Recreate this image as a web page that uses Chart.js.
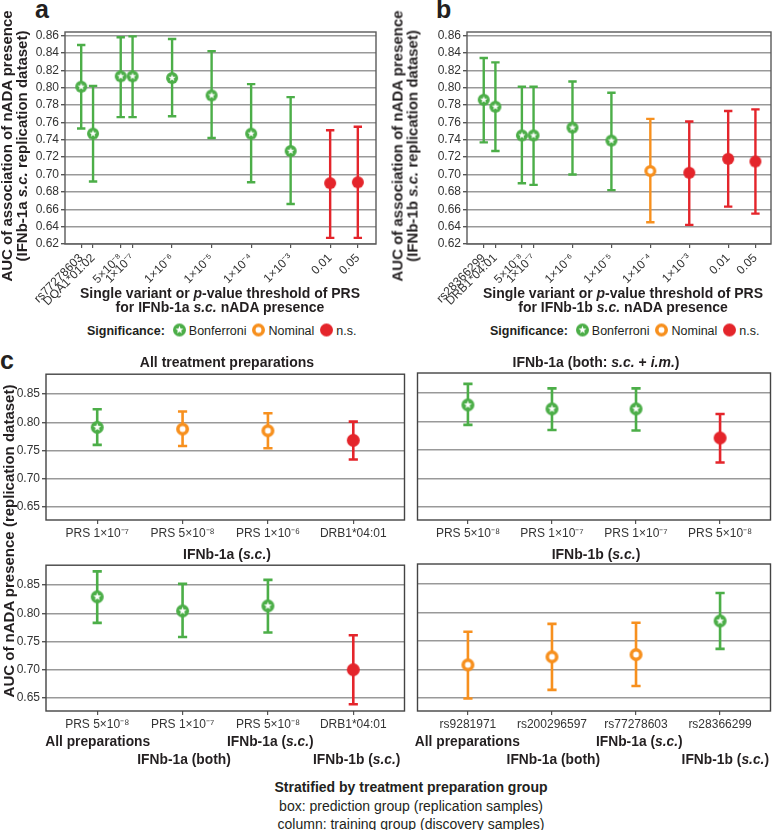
<!DOCTYPE html>
<html>
<head>
<meta charset="utf-8">
<script src="https://cdn.jsdelivr.net/npm/chart.js@4.4.1/dist/chart.umd.min.js"></script>
<style>
    body { margin: 0; width: 778px; height: 830px; position: relative; overflow: hidden; background: #fff;
           font-family: "Liberation Sans", Arial, sans-serif; color: #231f20; }
    canvas.plot { position: absolute; }
    .t { position: absolute; white-space: nowrap; line-height: 1; }
    .c { transform: translate(-50%, -50%); text-align: center; }
    .b { font-weight: bold; }
    .vt { position: absolute; white-space: nowrap; text-align: center; font-weight: bold;
          transform: translate(-50%, -50%) rotate(-90deg); line-height: 14.5px; font-size: 15px; }
    .letter { position: absolute; font-weight: bold; font-size: 25px; line-height: 1; }
    .legend { position: absolute; display: flex; align-items: center; font-size: 12.5px; white-space: nowrap;
              transform: translateY(-50%); }
    .legend canvas { margin: 0 2px 0 5px; }
</style>
</head>
<body>

<div class="letter" style="left:35px; top:-3px;">a</div>
<div class="letter" style="left:436px; top:-3px;">b</div>
<div class="letter" style="left:0px; top:348px;">c</div>

<canvas class="plot" id="chartA" width="390" height="320" style="left:0; top:0;"></canvas>
<canvas class="plot" id="chartB" width="388" height="320" style="left:390px; top:0;"></canvas>
<canvas class="plot" id="chartC1" width="412" height="180" style="left:0; top:365px;"></canvas>
<canvas class="plot" id="chartC2" width="368" height="180" style="left:410px; top:365px;"></canvas>
<canvas class="plot" id="chartC3" width="412" height="180" style="left:0; top:556px;"></canvas>
<canvas class="plot" id="chartC4" width="368" height="180" style="left:410px; top:556px;"></canvas>

<!-- axis titles, panel a / b -->
<div class="vt" style="left:14px; top:146px;">AUC of association of nADA presence<br>(IFNb-1a <i>s.c.</i> replication dataset)</div>
<div class="vt" style="left:405px; top:146px;">AUC of association of nADA presence<br>(IFNb-1b <i>s.c.</i> replication dataset)</div>
<div class="t c b" style="left:220px; top:300px; font-size:14px; line-height:13.5px;">Single variant or <i>p</i>-value threshold of PRS<br>for IFNb-1a <i>s.c.</i> nADA presence</div>
<div class="t c b" style="left:623px; top:300px; font-size:14px; line-height:13.5px;">Single variant or <i>p</i>-value threshold of PRS<br>for IFNb-1b <i>s.c.</i> nADA presence</div>
<div class="legend" id="legendA" style="left:87px; top:330px;"></div>
<div class="legend" id="legendB" style="left:490px; top:330px;"></div>

<!-- panel c titles -->
<div class="t c b" style="left:227px; top:362px; font-size:14px;">All treatment preparations</div>
<div class="t c b" style="left:596px; top:362px; font-size:14px;">IFNb-1a (both: <i>s.c.</i> + <i>i.m.</i>)</div>
<div class="t c b" style="left:227px; top:554px; font-size:14px;">IFNb-1a (<i>s.c.</i>)</div>
<div class="t c b" style="left:596px; top:554px; font-size:14px;">IFNb-1b (<i>s.c.</i>)</div>
<div class="vt" style="left:9px; top:541px;">AUC of nADA presence (replication dataset)</div>

<div id="columnLabels"></div>

<div class="t c b" style="left:411px; top:787px; font-size:14px;">Stratified by treatment preparation group</div>
<div class="t c" style="left:411px; top:806px; font-size:14px;">box: prediction group (replication samples)</div>
<div class="t c" style="left:411px; top:824px; font-size:14px;">column: training group (discovery samples)</div>

<script>
    // ---- data ----
    // significance: B = Bonferroni, Nom = nominal, NS = not significant

    // panel a: IFNb-1a s.c.
    const labelsA = ['rs77278603', 'DQA1*01:02', '5×10⁻⁸', '1×10⁻⁷', '1×10⁻⁶', '1×10⁻⁵', '1×10⁻⁴', '1×10⁻³', '0.01', '0.05'];
    const posA = [-8.3, -8.0, -7.3, -7, -6, -5, -4, -3, -2, -1.3]; // log10 of threshold
    const aucA = [0.801, 0.747, 0.813, 0.813, 0.811, 0.791, 0.747, 0.727, 0.690, 0.691];
    const lowA = [0.753, 0.692, 0.766, 0.766, 0.767, 0.742, 0.691, 0.666, 0.627, 0.627];
    const highA = [0.849, 0.802, 0.858, 0.859, 0.856, 0.842, 0.804, 0.789, 0.751, 0.755];
    const sigA = ['B', 'B', 'B', 'B', 'B', 'B', 'B', 'B', 'NS', 'NS'];

    // panel b: IFNb-1b s.c.
    const labelsB = ['rs28366299', 'DRB1*04:01', '5×10⁻⁸', '1×10⁻⁷', '1×10⁻⁶', '1×10⁻⁵', '1×10⁻⁴', '1×10⁻³', '0.01', '0.05'];
    const posB = [-8.28, -7.98, -7.3, -7, -6, -5, -4, -3, -2, -1.3];
    const aucB = [0.786, 0.778, 0.745, 0.745, 0.754, 0.739, 0.704, 0.702, 0.718, 0.715];
    const lowB = [0.737, 0.727, 0.690, 0.688, 0.700, 0.682, 0.645, 0.642, 0.663, 0.655];
    const highB = [0.834, 0.829, 0.801, 0.801, 0.807, 0.794, 0.764, 0.761, 0.773, 0.775];
    const sigB = ['B', 'B', 'B', 'B', 'B', 'B', 'Nom', 'NS', 'NS', 'NS'];

    const ticksAB = [0.62, 0.64, 0.66, 0.68, 0.70, 0.72, 0.74, 0.76, 0.78, 0.80, 0.82, 0.84, 0.86];

    // panel c: training group (column) x prediction group (box)
    const columns = ['All preparations', 'IFNb-1a (both)', 'IFNb-1a (<i>s.c.</i>)', 'IFNb-1b (<i>s.c.</i>)'];
    const catPos = [1, 2, 3, 4];

    const labelsC1 = ['PRS 1×10⁻⁷', 'PRS 5×10⁻⁸', 'PRS 1×10⁻⁶', 'DRB1*04:01'];
    const aucC1 = [0.791, 0.788, 0.785, 0.768];
    const lowC1 = [0.760, 0.758, 0.754, 0.734];
    const highC1 = [0.823, 0.819, 0.816, 0.801];
    const sigC1 = ['B', 'Nom', 'Nom', 'NS'];

    const labelsC2 = ['PRS 5×10⁻⁸', 'PRS 1×10⁻⁷', 'PRS 1×10⁻⁷', 'PRS 5×10⁻⁸'];
    const aucC2 = [0.829, 0.822, 0.822, 0.771];
    const lowC2 = [0.794, 0.785, 0.784, 0.728];
    const highC2 = [0.866, 0.858, 0.858, 0.813];
    const sigC2 = ['B', 'B', 'B', 'NS'];

    const labelsC3 = ['PRS 5×10⁻⁸', 'PRS 1×10⁻⁷', 'PRS 5×10⁻⁸', 'DRB1*04:01'];
    const aucC3 = [0.829, 0.804, 0.813, 0.700];
    const lowC3 = [0.783, 0.758, 0.766, 0.639];
    const highC3 = [0.874, 0.852, 0.859, 0.761];
    const sigC3 = ['B', 'B', 'B', 'NS'];

    const labelsC4 = ['rs9281971', 'rs200296597', 'rs77278603', 'rs28366299'];
    const aucC4 = [0.708, 0.722, 0.726, 0.785];
    const lowC4 = [0.649, 0.664, 0.671, 0.736];
    const highC4 = [0.766, 0.780, 0.782, 0.834];
    const sigC4 = ['Nom', 'Nom', 'Nom', 'B'];

    const ticksC = [0.65, 0.70, 0.75, 0.80, 0.85];

    // ---- styling ----
    const sigColor = { B: '#4cae48', Nom: '#f7901e', NS: '#e4252b' };
    const legendItems = [['B', 'Bonferroni'], ['Nom', 'Nominal'], ['NS', 'n.s.']];

    Chart.defaults.font.family = '"Liberation Sans", Arial, sans-serif';
    Chart.defaults.font.size = 12;
    Chart.defaults.color = '#333';

    function markerImg(kind, r) {
        const s = Math.ceil(2 * r + 2);
        const c = document.createElement('canvas');
        c.width = s; c.height = s;
        const g = c.getContext('2d');
        const m = s / 2;
        if (kind === 'B') {
            g.fillStyle = sigColor.B;
            g.beginPath(); g.arc(m, m, r, 0, 2 * Math.PI); g.fill();
            g.fillStyle = '#fff';
            g.beginPath();
            for (let i = 0; i < 10; i++) {
                const rad = i % 2 ? r * 0.27 : r * 0.64;
                const a = -Math.PI / 2 + i * Math.PI / 5;
                g.lineTo(m + rad * Math.cos(a), m + rad * Math.sin(a));
            }
            g.closePath(); g.fill();
        } else if (kind === 'Nom') {
            const w = r * 0.55;
            g.fillStyle = '#fff'; g.strokeStyle = sigColor.Nom; g.lineWidth = w;
            g.beginPath(); g.arc(m, m, r - w / 2, 0, 2 * Math.PI); g.fill(); g.stroke();
        } else {
            g.fillStyle = sigColor.NS;
            g.beginPath(); g.arc(m, m, r, 0, 2 * Math.PI); g.fill();
        }
        return c;
    }

    // box around the panel
    const frame = {
        id: 'frame',
        beforeDatasetsDraw(chart, args, opts) {
            const { ctx, chartArea: a } = chart;
            ctx.save();
            ctx.strokeStyle = opts.color || '#555';
            ctx.lineWidth = opts.width || 1.4;
            ctx.strokeRect(a.left, a.top, a.right - a.left, a.bottom - a.top);
            ctx.restore();
        }
    };

    // 95% CI whiskers, drawn through the chart scales
    const errorBars = {
        id: 'errorBars',
        beforeDatasetsDraw(chart, args, opts) {
            const { ctx, scales: { x, y } } = chart;
            const ds = chart.data.datasets[0];
            ctx.save();
            ctx.lineWidth = opts.width;
            ds.data.forEach((p, i) => {
                const px = x.getPixelForValue(p.x);
                const top = y.getPixelForValue(p.hi);
                const bot = y.getPixelForValue(p.lo);
                ctx.strokeStyle = ds.barColors[i];
                ctx.beginPath();
                ctx.moveTo(px, top); ctx.lineTo(px, bot);
                ctx.moveTo(px - opts.cap, top); ctx.lineTo(px + opts.cap, top);
                ctx.moveTo(px - opts.cap, bot); ctx.lineTo(px + opts.cap, bot);
                ctx.stroke();
            });
            ctx.restore();
        }
    };

    function makeChart(id, o) {
        const markers = {};
        ['B', 'Nom', 'NS'].forEach(k => { markers[k] = markerImg(k, o.r); });

        return new Chart(document.getElementById(id), {
            type: 'scatter',
            data: {
                datasets: [{
                    data: o.pos.map((x, i) => ({ x, y: o.auc[i], lo: o.low[i], hi: o.high[i] })),
                    pointStyle: o.sig.map(s => markers[s]),
                    barColors: o.sig.map(s => sigColor[s]),
                    pointRadius: o.r,
                    clip: false
                }]
            },
            options: {
                responsive: false,
                animation: false,
                events: [],
                layout: { padding: o.pad },
                plugins: {
                    legend: { display: false },
                    tooltip: { enabled: false },
                    errorBars: { width: o.lw, cap: o.cap },
                    frame: { color: o.frameColor, width: 1.4 }
                },
                scales: {
                    x: {
                        type: 'linear',
                        min: o.xMin,
                        max: o.xMax,
                        border: { display: false },
                        grid: { drawOnChartArea: false, tickLength: 4, tickColor: '#555', lineWidth: 1.2 },
                        afterBuildTicks: s => { s.ticks = o.pos.map(v => ({ value: v })); },
                        afterFit: s => { s.height = o.xH; },
                        ticks: {
                            autoSkip: false,
                            minRotation: o.rot,
                            maxRotation: o.rot,
                            padding: o.rot ? 3 : 2,
                            color: '#333',
                            font: { size: o.xFont },
                            callback: (v, i) => o.labels[i]
                        }
                    },
                    y: {
                        min: o.yMin,
                        max: o.yMax,
                        border: { display: false },
                        grid: { color: '#999', lineWidth: 1.4, tickLength: 4, tickColor: '#555', drawTicks: o.yLabels },
                        afterBuildTicks: s => { s.ticks = o.yTicks.map(v => ({ value: v })); },
                        afterFit: s => { s.width = o.yW; },
                        ticks: {
                            display: o.yLabels,
                            padding: 2,
                            color: '#333',
                            font: { size: 12 },
                            callback: v => v.toFixed(2)
                        }
                    }
                }
            },
            plugins: [frame, errorBars]
        });
    }

    const abBase = { yMin: 0.62, yMax: 0.864, yTicks: ticksAB, yLabels: true, r: 6, lw: 2.4, cap: 4.2, rot: 45, xFont: 12, xH: 76, frameColor: '#5a5a5a' };
    makeChart('chartA', Object.assign({}, abBase, {
        labels: labelsA, pos: posA, auc: aucA, low: lowA, high: highA, sig: sigA,
        xMin: -8.71, xMax: -0.84, yW: 65, pad: { top: 32, right: 14, left: 0, bottom: 0 }
    }));
    makeChart('chartB', Object.assign({}, abBase, {
        labels: labelsB, pos: posB, auc: aucB, low: lowB, high: highB, sig: sigB,
        xMin: -8.71, xMax: -0.90, yW: 77, pad: { top: 32, right: 1.5, left: 0, bottom: 0 }
    }));

    const cBase = { pos: catPos, xMin: 0.4, xMax: 4.6, yMin: 0.627, yMax: 0.885, yTicks: ticksC, r: 6.5, lw: 2.6, cap: 4.6, rot: 0, xFont: 12, xH: 25, frameColor: '#444' };
    makeChart('chartC1', Object.assign({}, cBase, {
        labels: labelsC1, auc: aucC1, low: lowC1, high: highC1, sig: sigC1,
        yLabels: true, yW: 46, pad: { top: 8, right: 4.3, left: 0, bottom: 0 }
    }));
    makeChart('chartC2', Object.assign({}, cBase, {
        labels: labelsC2, auc: aucC2, low: lowC2, high: highC2, sig: sigC2,
        yLabels: false, yW: 6, pad: { top: 8, right: 1.5, left: 0, bottom: 0 }
    }));
    makeChart('chartC3', Object.assign({}, cBase, {
        labels: labelsC3, auc: aucC3, low: lowC3, high: highC3, sig: sigC3,
        yLabels: true, yW: 46, pad: { top: 8, right: 4.3, left: 0, bottom: 0 }
    }));
    makeChart('chartC4', Object.assign({}, cBase, {
        labels: labelsC4, auc: aucC4, low: lowC4, high: highC4, sig: sigC4,
        yLabels: false, yW: 6, pad: { top: 8, right: 1.5, left: 0, bottom: 0 }
    }));

    // significance legends
    ['legendA', 'legendB'].forEach(id => {
        const el = document.getElementById(id);
        el.innerHTML = '<b style="margin-right:2px">Significance:</b>';
        legendItems.forEach(([k, txt]) => {
            const img = markerImg(k, 6.5);
            el.appendChild(img);
            const span = document.createElement('span');
            span.textContent = txt;
            el.appendChild(span);
        });
    });

    // training-group labels under each column of boxes, staggered in two rows
    const colCentersL = [97.7, 184, 270.3, 356.7];
    const colCentersR = [467.3, 553.3, 639.3, 725.3];
    const labelBox = document.getElementById('columnLabels');
    [colCentersL, colCentersR].forEach(centers => {
        centers.forEach((cx, i) => {
            const d = document.createElement('div');
            d.className = 't c b';
            d.style.left = cx + 'px';
            d.style.top = (i % 2 ? 760 : 742) + 'px';
            d.style.fontSize = '13.8px';
            d.innerHTML = columns[i];
            labelBox.appendChild(d);
        });
    });
</script>
</body>
</html>
